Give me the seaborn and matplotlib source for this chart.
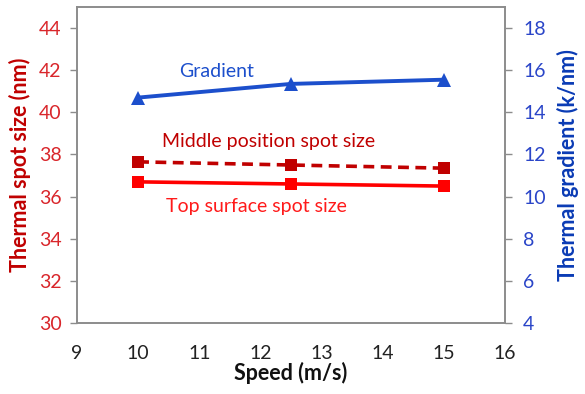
import matplotlib
matplotlib.use("Agg")
import matplotlib.pyplot as plt
import seaborn as sns
import pandas as pd

speed = [10, 12.5, 15]
top_surface = [36.7, 36.6, 36.5]
middle_position = [37.65, 37.5, 37.35]
gradient = [14.7, 15.35, 15.55]

sns.set_style("white")
plt.rcParams['font.family'] = ['Lato', 'DejaVu Sans']

fig = plt.figure(figsize=(5.85, 3.94), dpi=100)
ax = fig.add_axes([0.1316, 0.1802, 0.7316, 0.802])
ax2 = ax.twinx()

df = pd.DataFrame({"speed": speed, "top": top_surface, "mid": middle_position, "grad": gradient})

sns.lineplot(data=df, x="speed", y="top", ax=ax, color="#ff0000", marker="s",
             markersize=8.5, markeredgewidth=0, linewidth=2.6)
sns.lineplot(data=df, x="speed", y="mid", ax=ax, color="#c00000", marker="s",
             markersize=8.5, markeredgewidth=0, linewidth=2.6)
ax.lines[-1].set_linestyle((0, (3, 1.8)))
sns.lineplot(data=df, x="speed", y="grad", ax=ax2, color="#1c4fcc", marker="^",
             markersize=10, markeredgewidth=0, linewidth=2.8)

ax.set_xlim(9, 16)
ax.set_ylim(30, 45)
ax2.set_ylim(4, 19)
ax.set_xticks(range(9, 17))
ax.set_yticks(range(30, 45, 2))
ax2.set_yticks(range(4, 19, 2))

for a in (ax, ax2):
    for s in a.spines.values():
        s.set_color("#8c8c8c")
        s.set_linewidth(1.2)

ax.tick_params(axis="x", direction="out", length=5, color="#8c8c8c", labelsize=14, labelcolor="#222222", pad=11, width=1)
ax.tick_params(axis="y", direction="out", length=5, color="#8c8c8c", labelsize=14, labelcolor="#d9262b", pad=6, width=1)
ax2.tick_params(axis="y", direction="out", length=5, color="#8c8c8c", labelsize=14, labelcolor="#2a45c8", pad=8, width=1)

ax.set_xlabel("Speed (m/s)", fontsize=15.5, fontweight="bold", color="#111111", labelpad=0)
ax.set_ylabel("Thermal spot size (nm)", fontsize=15.5, fontweight="bold", color="#c00000", labelpad=6)
ax2.set_ylabel("Thermal gradient (k/nm)", fontsize=15.5, fontweight="bold", color="#0a3bb5", labelpad=8)

ax.text(11.29, 41.95, "Gradient", color="#1c4fcc", fontsize=14, ha="center", va="center")
ax.text(12.14, 38.63, "Middle position spot size", color="#c00000", fontsize=14, ha="center", va="center")
ax.text(11.93, 35.54, "Top surface spot size", color="#ff1a1a", fontsize=14, ha="center", va="center")

ax.grid(False)
ax2.grid(False)
fig.savefig("out.png", dpi=100)
